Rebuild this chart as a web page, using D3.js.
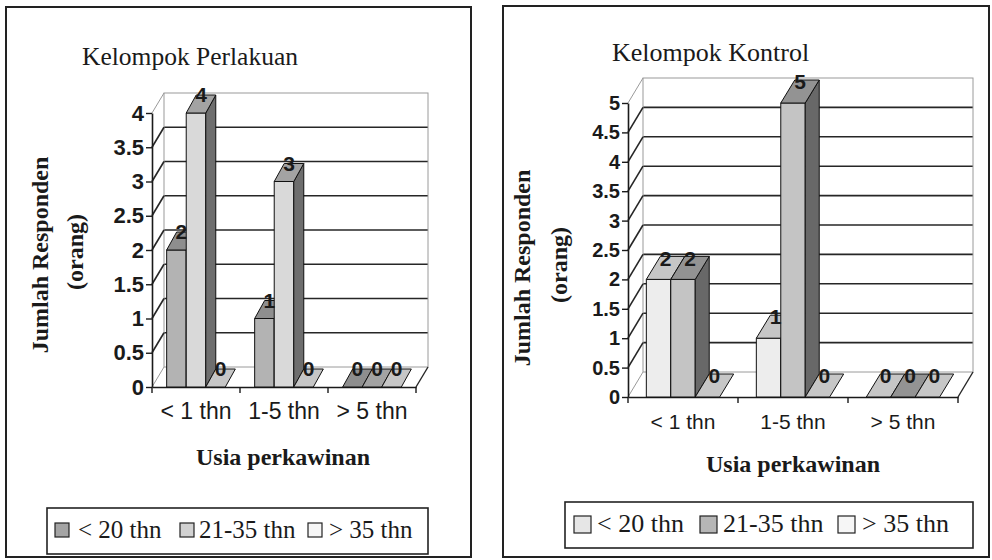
<!DOCTYPE html>
<html>
<head>
<meta charset="utf-8">
<script src="https://cdn.jsdelivr.net/npm/d3@7"></script>
<style>
  html, body { margin: 0; padding: 0; background: #fff; }
  svg { display: block; }
</style>
</head>
<body>
<svg id="chart" width="992" height="560"></svg>
<script>
// Categories (marriage age) and respondent age groups
const categories = ["< 1 thn", "1-5 thn", "> 5 thn"];
const seriesNames = ["< 20 thn", "21-35 thn", "> 35 thn"];

// Respondent counts, one array per age group, ordered as categories
const perlakuanUnder20 = [2, 1, 0];
const perlakuan21to35 = [4, 3, 0];
const perlakuanOver35 = [0, 0, 0];

const kontrolUnder20 = [2, 1, 0];
const kontrol21to35 = [2, 5, 0];
const kontrolOver35 = [0, 0, 0];

const perlakuanTicks = [0, 0.5, 1, 1.5, 2, 2.5, 3, 3.5, 4];
const kontrolTicks = [0, 0.5, 1, 1.5, 2, 2.5, 3, 3.5, 4, 4.5, 5];

const panelTitles = ["Kelompok Perlakuan", "Kelompok Kontrol"];
const yTitleLines = ["Jumlah Responden", "(orang)"];
const xTitle = "Usia perkawinan";

const SANS = '"Liberation Sans", Arial, sans-serif';
const SERIF = '"Liberation Serif", "Times New Roman", serif';

const svg = d3.select("#chart");

function drawPanel(opt) {
  const g = svg.append("g");
  const series = opt.series;
  const ticks = opt.ticks;
  const maxV = ticks[ticks.length - 1];

  // panel frame
  g.append("rect")
    .attr("x", opt.frame[0]).attr("y", opt.frame[1])
    .attr("width", opt.frame[2]).attr("height", opt.frame[3])
    .attr("fill", "#fff").attr("stroke", "#222").attr("stroke-width", 2);

  const y = d3.scaleLinear().domain([0, maxV]).range([opt.yBase, opt.yTop]);
  const x = d3.scaleBand().domain(categories).range([opt.x0, opt.x1]);
  const inner = d3.scaleBand().domain(seriesNames)
    .range([0, x.bandwidth()]).paddingInner(0).paddingOuter(0.75);

  const dx = opt.dx, dy = opt.dy, bdx = opt.bdx, bdy = opt.bdy;
  const bx0 = opt.x0 + dx, bx1 = opt.x1 + dx;

  // back wall gridlines
  g.append("g").selectAll("line")
    .data(ticks.filter(t => t > 0 && t < maxV))
    .join("line")
    .attr("x1", bx0).attr("x2", bx1)
    .attr("y1", d => y(d) + dy).attr("y2", d => y(d) + dy)
    .attr("stroke", "#262626").attr("stroke-width", 1.6);

  // back wall outline
  g.append("rect")
    .attr("x", bx0).attr("y", y(maxV) + dy)
    .attr("width", bx1 - bx0).attr("height", y(0) - y(maxV))
    .attr("fill", "none").attr("stroke", "#9a9a9a").attr("stroke-width", 1);

  // side wall diagonals
  g.append("g").selectAll("line")
    .data(ticks)
    .join("line")
    .attr("x1", opt.x0).attr("x2", bx0)
    .attr("y1", d => y(d)).attr("y2", d => y(d) + dy)
    .attr("stroke", d => (d === 0 || d === maxV) ? "#9a9a9a" : "#262626")
    .attr("stroke-width", d => (d === 0 || d === maxV) ? 1 : 1.6);

  // floor right edge
  g.append("line")
    .attr("x1", opt.x1).attr("y1", y(0))
    .attr("x2", bx1).attr("y2", y(0) + dy)
    .attr("stroke", "#262626").attr("stroke-width", 1.4);

  // front value axis
  const yAxis = d3.axisLeft(y).tickValues(ticks).tickSize(6).tickSizeOuter(0)
    .tickFormat(d => String(d)).tickPadding(2);
  const ya = g.append("g").attr("transform", `translate(${opt.x0},0)`).call(yAxis);
  ya.select(".domain").attr("stroke", "#1a1a1a").attr("stroke-width", 1.6);
  ya.selectAll(".tick line").attr("stroke", "#1a1a1a").attr("stroke-width", 1.4);
  ya.selectAll(".tick text")
    .attr("fill", "#1a1a1a")
    .style("font-family", SANS)
    .style("font-size", opt.tickFont + "px").style("font-weight", "bold");

  // front category axis
  const xAxis = d3.axisBottom(x).tickSize(0).tickSizeOuter(0).tickPadding(opt.xLabelPad);
  const xa = g.append("g").attr("transform", `translate(0,${opt.yBase})`).call(xAxis);
  xa.select(".domain").attr("stroke", "#1a1a1a").attr("stroke-width", 1.6);
  xa.selectAll(".tick text")
    .attr("fill", "#1a1a1a")
    .style("font-family", SANS)
    .style("font-size", opt.xFont + "px");
  // boundary tick marks between categories
  const bounds = categories.map(c => x(c)).concat([opt.x1]);
  g.append("g").selectAll("line").data(bounds).join("line")
    .attr("x1", d => d).attr("x2", d => d)
    .attr("y1", opt.yBase).attr("y2", opt.yBase + 6)
    .attr("stroke", "#1a1a1a").attr("stroke-width", 1.4);

  // 3D columns, drawn left to right
  const bars = [];
  categories.forEach((c, ci) => {
    seriesNames.forEach((s, si) => {
      bars.push({ c, s, si, v: series[si][ci] });
    });
  });
  const barG = g.append("g").attr("stroke", "#111").attr("stroke-width", 1)
    .attr("stroke-linejoin", "round");
  bars.forEach(b => {
    const xl = x(b.c) + inner(b.s);
    const w = inner.bandwidth();
    const yt = y(b.v), yb = y(0);
    if (b.v > 0) {
      barG.append("rect").attr("x", xl).attr("y", yt)
        .attr("width", w).attr("height", yb - yt)
        .attr("fill", opt.front[b.si]);
      barG.append("polygon")
        .attr("points", [[xl + w, yt], [xl + w + bdx, yt + bdy], [xl + w + bdx, yb + bdy], [xl + w, yb]].join(" "))
        .attr("fill", opt.side[b.si]);
    }
    barG.append("polygon")
      .attr("points", [[xl, yt], [xl + w, yt], [xl + w + bdx, yt + bdy], [xl + bdx, yt + bdy]].join(" "))
      .attr("fill", opt.top[b.si]);
  });

  // value labels
  g.append("g").selectAll("text").data(bars).join("text")
    .attr("x", b => x(b.c) + inner(b.s) + inner.bandwidth() / 2 + bdx * 0.5)
    .attr("y", b => y(b.v) + bdy * 0.6)
    .attr("text-anchor", "middle")
    .style("font-family", SANS)
    .style("font-size", opt.labelFont + "px").style("font-weight", "bold")
    .attr("fill", "#1a1a1a")
    .text(b => b.v);

  // titles
  g.append("text")
    .attr("x", opt.titlePos[0]).attr("y", opt.titlePos[1])
    .style("font-family", SERIF)
    .style("font-size", opt.titleFont + "px").attr("fill", "#1a1a1a")
    .text(opt.title);

  yTitleLines.forEach((t, i) => {
    g.append("text")
      .attr("transform", `translate(${opt.yTitle[i][0]},${opt.yTitle[i][1]}) rotate(-90)`)
      .attr("text-anchor", "middle").attr("dy", "0.35em")
      .style("font-family", SERIF)
      .style("font-size", opt.axisTitleFont + "px").style("font-weight", "bold")
      .attr("fill", "#1a1a1a")
      .text(t);
  });

  g.append("text")
    .attr("x", opt.xTitlePos[0]).attr("y", opt.xTitlePos[1])
    .attr("text-anchor", "middle")
    .style("font-family", SERIF)
    .style("font-size", opt.axisTitleFont + "px").style("font-weight", "bold")
    .attr("fill", "#1a1a1a")
    .text(xTitle);

  // legend
  const L = opt.legend;
  const lg = g.append("g");
  lg.append("rect").attr("x", L.box[0]).attr("y", L.box[1])
    .attr("width", L.box[2]).attr("height", L.box[3])
    .attr("fill", "#fff").attr("stroke", "#222").attr("stroke-width", 1.6);
  seriesNames.forEach((s, i) => {
    lg.append("rect").attr("x", L.sw[i]).attr("y", L.swY)
      .attr("width", L.swSize).attr("height", L.swSize)
      .attr("fill", opt.legendFill[i]).attr("stroke", "#222").attr("stroke-width", 1.2);
    lg.append("text")
      .attr("x", L.tx[i]).attr("y", L.ty)
      .style("font-family", SERIF)
      .style("font-size", L.font + "px").attr("fill", "#1a1a1a")
      .text(s);
  });
}

drawPanel({
  series: [perlakuanUnder20, perlakuan21to35, perlakuanOver35],
  ticks: perlakuanTicks,
  title: panelTitles[0],
  frame: [6, 7, 465, 550],
  x0: 152, x1: 416, yBase: 387, yTop: 113,
  dx: 12, dy: -20, bdx: 10, bdy: -18,
  front: ["#b3b3b3", "#d9d9d9", "#eeeeee"],
  top: ["#8e8e8e", "#a3a3a3", "#c6c6c6"],
  side: ["#6a6a6a", "#6e6e6e", "#8a8a8a"],
  legendFill: ["#a4a4a4", "#d2d2d2", "#f6f6f6"],
  tickFont: 22, xFont: 23, xLabelPad: 16, labelFont: 21,
  titleFont: 25.5, titlePos: [82, 65],
  axisTitleFont: 24,
  yTitle: [[40, 255], [75, 252]],
  xTitlePos: [283, 465],
  legend: { box: [47, 508, 381, 46], sw: [55, 180, 308], swY: 523, swSize: 14,
            tx: [78, 199, 329], ty: 538, font: 25 }
});

drawPanel({
  series: [kontrolUnder20, kontrol21to35, kontrolOver35],
  ticks: kontrolTicks,
  title: panelTitles[1],
  frame: [503, 6, 486, 551],
  x0: 628, x1: 958, yBase: 397, yTop: 103,
  dx: 15, dy: -25, bdx: 14, bdy: -23,
  front: ["#ededed", "#c4c4c4", "#f2f2f2"],
  top: ["#c6c6c6", "#939393", "#c6c6c6"],
  side: ["#8a8a8a", "#686868", "#8a8a8a"],
  legendFill: ["#e6e6e6", "#b6b6b6", "#f6f6f6"],
  tickFont: 20, xFont: 21, xLabelPad: 17, labelFont: 21,
  titleFont: 26, titlePos: [612, 61],
  axisTitleFont: 24,
  yTitle: [[522, 268], [559, 265]],
  xTitlePos: [793, 472],
  legend: { box: [565, 502, 408, 46], sw: [574, 700, 838], swY: 516, swSize: 17,
            tx: [597, 723, 862], ty: 532, font: 26 }
});
</script>
</body>
</html>
